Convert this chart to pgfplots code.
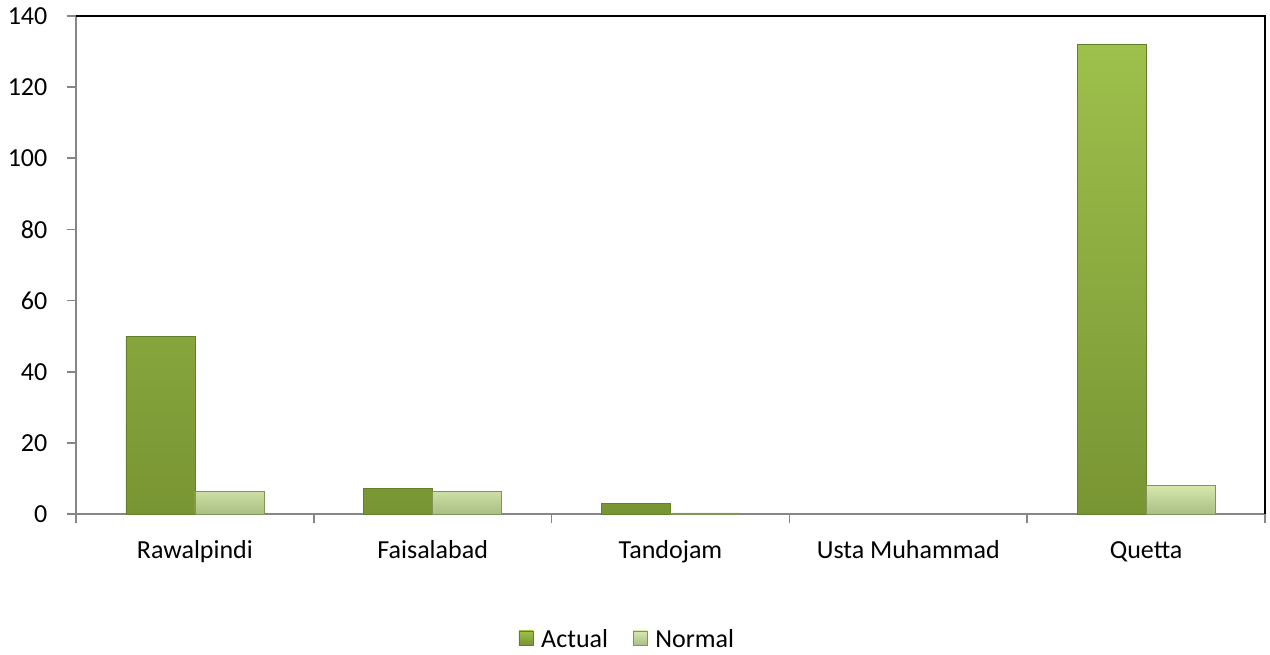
\documentclass[border=0pt]{standalone}
\usepackage{pgfplots}
\pgfplotsset{compat=1.18}
\usepackage{fontspec}
\setmainfont{Carlito}
\definecolor{axgray}{HTML}{868686}
\definecolor{actTop}{HTML}{9EC04C}
\definecolor{actBot}{HTML}{789533}
\definecolor{actEdge}{HTML}{62802A}
\definecolor{norTop}{HTML}{D6E8AE}
\definecolor{norBot}{HTML}{AABF84}
\definecolor{norEdge}{HTML}{80955A}
\begin{document}
\begin{tikzpicture}
\begin{axis}[
  scale only axis, width=891.75pt, height=373.5pt,
  ybar=0pt, bar width=51.75pt,
  xmin=-0.5, xmax=4.5, ymin=0, ymax=140,
  ytick={0,20,...,140},
  xtick={0,1,2,3,4},
  xticklabels={Rawalpindi,Faisalabad,Tandojam,Usta Muhammad,Quetta},
  major x tick style={draw=none},
  minor xtick={-0.5,0.5,...,4.5},
  axis x line*=bottom, axis y line*=left,
  axis line style={-, axgray, line width=1.2pt},
  tick style={axgray, line width=1.2pt},
  tick align=outside, major tick length=7pt, minor tick length=7pt,
  /pgf/number format/assume math mode=true,
  ticklabel style={font=\fontsize{19.5}{23}\selectfont},
  xticklabel style={yshift=-9pt, text height=14pt, text depth=4.5pt},
  yticklabel style={xshift=-11pt},
  legend style={at={(0.464,-0.251)}, anchor=center, draw=none, fill=none,
    legend columns=2, font=\fontsize{19.5}{23}\selectfont,
    /tikz/every odd column/.append style={column sep=4pt},
    /tikz/every even column/.append style={column sep=16.5pt}},
  legend image code/.code={\draw[#1] (0pt,-4.5pt) rectangle (10.5pt,6pt);},
  clip=false,
]
\addplot[draw=actEdge, line width=0.4pt, top color=actTop, bottom color=actBot]
  coordinates {(0,50) (1,7.3) (2,3.0) (4,132)};
\addplot[draw=norEdge, line width=0.4pt, top color=norTop, bottom color=norBot]
  coordinates {(0,6.4) (1,6.4) (2,0.3) (4,8.1)};
\legend{Actual,Normal}
\draw[black, line width=1.2pt] (rel axis cs:0,1) -- (rel axis cs:1,1) -- (rel axis cs:1,0);
\path (rel axis cs:1,0) ++(3.75pt,-105.75pt);
\path (rel axis cs:0,1) ++(-57pt,12pt);
\end{axis}
\end{tikzpicture}
\end{document}
